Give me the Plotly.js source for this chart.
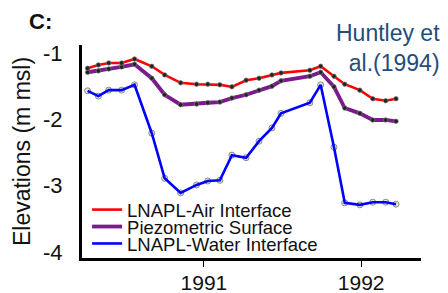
<!DOCTYPE html>
<html>
<head>
<meta charset="utf-8">
<script src="https://cdn.plot.ly/plotly-3.0.1.min.js"></script>
<style>html,body{margin:0;padding:0;background:#fff;}#chart{width:448px;height:293px;}</style>
</head>
<body>
<div id="chart"></div>
<script>
// Sampling dates
const dates = ['1990-04-06','1990-05-01','1990-05-25','1990-06-24','1990-07-24','1990-09-02',
  '1990-10-02','1990-11-08','1990-12-15','1991-01-10','1991-02-07','1991-03-07',
  '1991-04-09','1991-05-09','1991-06-08','1991-06-29','1991-09-04','1991-09-29',
  '1991-10-30','1991-11-24','1991-12-29','1992-01-28','1992-02-27','1992-03-22'];
// Elevations (m msl)
const airInterface = [-1.23,-1.18,-1.15,-1.15,-1.09,-1.20,-1.33,-1.45,-1.47,-1.47,-1.48,-1.51,
  -1.41,-1.38,-1.33,-1.30,-1.26,-1.20,-1.35,-1.47,-1.56,-1.69,-1.72,-1.69];
const piezometric = [-1.29,-1.27,-1.24,-1.21,-1.17,-1.38,-1.63,-1.78,-1.77,-1.75,-1.74,-1.68,
  -1.63,-1.56,-1.50,-1.42,-1.35,-1.29,-1.51,-1.83,-1.91,-2.01,-2.01,-2.03];
const waterInterface = [-1.57,-1.65,-1.56,-1.56,-1.48,-2.21,-2.89,-3.11,-2.99,-2.93,-2.92,-2.54,
  -2.58,-2.33,-2.13,-1.91,-1.75,-1.48,-2.42,-3.26,-3.29,-3.25,-3.25,-3.28];
const seriesNames = ['LNAPL-Air Interface','Piezometric Surface','LNAPL-Water Interface'];
const yTickVals = [-1,-2,-3,-4];
const yTickText = ['-1','-2','-3','-4'];
const xRange = ['1990-03-24','1992-05-19'];
const yRange = [-4.092,-0.879];

const FONT = 'Arial, "Liberation Sans", sans-serif';
const RED = '#ff0000', PURPLE = '#7a1a8c', BLUE = '#0000ff';

const data = [
  {x: dates, y: waterInterface, mode: 'markers', showlegend: false, hoverinfo: 'skip',
   marker: {size: 6, color: 'rgba(210,210,210,0.6)', line: {color: '#8a8a8a', width: 1}}},
  {x: dates, y: waterInterface, mode: 'lines', name: seriesNames[2], legend: 'legend3',
   line: {color: BLUE, width: 2.6}},
  {x: dates, y: piezometric, mode: 'lines', name: seriesNames[1], legend: 'legend2',
   line: {color: PURPLE, width: 3.8}},
  {x: dates, y: airInterface, mode: 'lines', name: seriesNames[0], legend: 'legend',
   line: {color: RED, width: 2.6}},
  {x: dates, y: piezometric, mode: 'markers', showlegend: false, hoverinfo: 'skip',
   marker: {size: 4.5, color: '#222', line: {color: 'rgba(120,120,120,0.7)', width: 1}}},
  {x: dates, y: airInterface, mode: 'markers', showlegend: false, hoverinfo: 'skip',
   marker: {size: 4.5, color: '#222', line: {color: 'rgba(120,120,120,0.7)', width: 1}}}
];

const legendBase = {x: 0.015, xanchor: 'left', yanchor: 'middle', bgcolor: 'rgba(0,0,0,0)',
  borderwidth: 0, font: {family: FONT, size: 18.5, color: '#111'}};

const layout = {
  width: 448, height: 293,
  margin: {l: 82, r: 27, t: 45, b: 35},
  paper_bgcolor: '#fff', plot_bgcolor: '#fff',
  font: {family: FONT, color: '#111'},
  xaxis: {type: 'date', range: xRange, tickformat: '%Y', dtick: 'M12', tick0: '1991-01-01',
          showgrid: false, zeroline: false, showline: true, linewidth: 3, linecolor: '#000',
          ticks: 'outside', ticklen: 6, tickwidth: 1, tickcolor: '#000', ticklabelstandoff: -2,
          tickfont: {family: FONT, size: 21, color: '#111'}},
  yaxis: {range: yRange, tickvals: yTickVals, ticktext: yTickText,
          showgrid: false, zeroline: false, showline: true, linewidth: 3, linecolor: '#000',
          ticks: '', ticklabelstandoff: 12,
          tickfont: {family: FONT, size: 22, color: '#111'},
          title: {text: 'Elevations (m msl)', standoff: 6, font: {family: FONT, size: 23, color: '#111'}}},
  legend: Object.assign({}, legendBase, {y: 0.225}),
  legend2: Object.assign({}, legendBase, {y: 0.1455}),
  legend3: Object.assign({}, legendBase, {y: 0.066}),
  annotations: [
    {xref: 'paper', yref: 'paper', x: -0.162, y: 1.108, xanchor: 'left', yanchor: 'middle',
     showarrow: false, text: '<b>C:</b>', font: {family: FONT, size: 22, color: '#111'}},
    {xref: 'paper', yref: 'paper', x: 1.062, y: 0.986, xanchor: 'right', yanchor: 'middle',
     align: 'right', showarrow: false, text: 'Huntley et<br>al.(1994)',
     font: {family: FONT, size: 23, color: '#1f4e7a'}}],
  showlegend: true
};

Plotly.newPlot('chart', data, layout, {staticPlot: true, displayModeBar: false});
</script>
</body>
</html>
